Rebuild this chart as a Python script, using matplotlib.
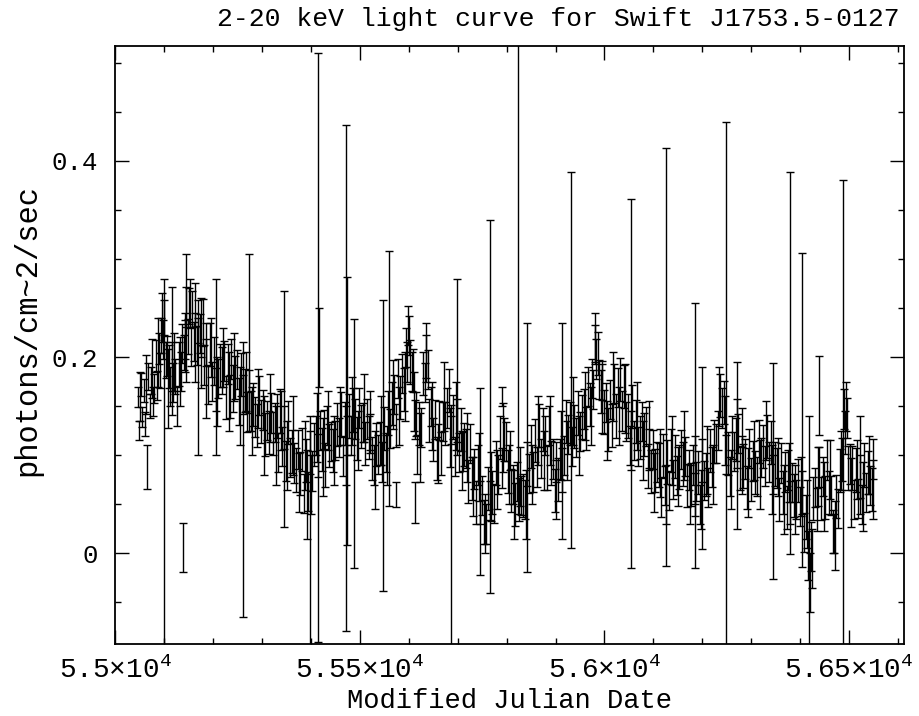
import matplotlib
matplotlib.use("Agg")
import matplotlib.pyplot as plt
import numpy as np
from matplotlib.ticker import MultipleLocator, FuncFormatter

# light curve points (MJD, photons/cm^2/s, 1-sigma)
mjd = [
    55047, 55050, 55053, 55056, 55059, 55062, 55068, 55071, 55074, 55077,
    55080, 55083, 55086, 55089, 55092, 55095, 55098, 55101, 55104, 55107,
    55110, 55113, 55116, 55119, 55122, 55126, 55130, 55134, 55137, 55140,
    55143, 55146, 55149, 55152, 55155, 55158, 55161, 55164, 55167, 55170,
    55173, 55176, 55179, 55182, 55186, 55190, 55194, 55198, 55202, 55206,
    55210, 55214, 55218, 55222, 55226, 55230, 55234, 55238, 55242, 55246,
    55250, 55254, 55258, 55262, 55266, 55270, 55274, 55278, 55282, 55286,
    55290, 55294, 55298, 55302, 55306, 55310, 55314, 55318, 55322, 55326,
    55330, 55334, 55338, 55342, 55346, 55350, 55354, 55358, 55362, 55366,
    55370, 55374, 55378, 55382, 55386, 55390, 55394, 55398, 55402, 55406,
    55410, 55414, 55418, 55422, 55426, 55430, 55434, 55438, 55442, 55446,
    55450, 55454, 55458, 55462, 55466, 55470, 55474, 55478, 55482, 55486,
    55490, 55494, 55498, 55502, 55506, 55510, 55514, 55518, 55522, 55526,
    55530, 55534, 55538, 55542, 55546, 55550, 55554, 55558, 55562, 55566,
    55570, 55574, 55578, 55582, 55586, 55590, 55594, 55597, 55600, 55603,
    55606, 55609, 55612, 55615, 55618, 55622, 55626, 55630, 55633, 55636,
    55639, 55642, 55646, 55650, 55654, 55658, 55662, 55666, 55670, 55674,
    55678, 55682, 55686, 55690, 55694, 55698, 55702, 55706, 55710, 55714,
    55718, 55722, 55726, 55730, 55734, 55738, 55742, 55746, 55750, 55754,
    55758, 55762, 55766, 55770, 55774, 55778, 55782, 55786, 55790, 55794,
    55798, 55802, 55806, 55810, 55814, 55818, 55822, 55826, 55830, 55834,
    55838, 55842, 55846, 55850, 55854, 55858, 55862, 55866, 55870, 55874,
    55878, 55882, 55886, 55890, 55894, 55898, 55902, 55906, 55910, 55914,
    55918, 55922, 55926, 55930, 55934, 55938, 55942, 55946, 55950, 55954,
    55958, 55962, 55966, 55970, 55974, 55977, 55980, 55983, 55986, 55989,
    55992, 55996, 56000, 56004, 56008, 56012, 56016, 56020, 56024, 56028,
    56032, 56036, 56040, 56044, 56048, 56052, 56056, 56060, 56064, 56068,
    56072, 56076, 56080, 56084, 56088, 56092, 56096, 56100, 56104, 56108,
    56112, 56116, 56120, 56124, 56128, 56132, 56136, 56140, 56144, 56148,
    56152, 56156, 56160, 56164, 56168, 56172, 56176, 56180, 56184, 56188,
    56192, 56196, 56200, 56204, 56208, 56212, 56216, 56220, 56224, 56228,
    56232, 56236, 56240, 56244, 56248, 56252, 56256, 56260, 56264, 56268,
    56272, 56276, 56280, 56284, 56288, 56292, 56296, 56300, 56304, 56308,
    56312, 56316, 56320, 56324, 56328, 56332, 56336, 56340, 56344, 56348,
    56352, 56356, 56360, 56364, 56368, 56372, 56376, 56380, 56384, 56388,
    56392, 56396, 56400, 56404, 56408, 56412, 56416, 56419, 56422, 56426,
    56430, 56434, 56438, 56442, 56446, 56450, 56454, 56458, 56462, 56466,
    56470, 56474, 56478, 56482, 56486, 56489, 56492, 56495, 56498, 56502,
    56506, 56510, 56514, 56518, 56522, 56526, 56530, 56534, 56538, 56542,
    56546, 56549,
]
rate = [
    0.159, 0.125, 0.172, 0.139, 0.166, 0.132, 0.180, 0.150, 0.176, 0.155,
    0.168, 0.201, 0.171, 0.209, 0.186, 0.222, 0.218, 0.240, 0.197, 0.201,
    0.190, 0.170, 0.190, 0.174, 0.180, 0.150, 0.193, 0.185, 0.214, 0.205,
    0.218, 0.251, 0.221, 0.252, 0.211, 0.249, 0.216, 0.253, 0.212, 0.236,
    0.224, 0.190, 0.235, 0.192, 0.213, 0.172, 0.213, 0.175, 0.196, 0.167,
    0.178, 0.191, 0.186, 0.196, 0.159, 0.193, 0.160, 0.198, 0.168, 0.179,
    0.187, 0.155, 0.182, 0.162, 0.166, 0.144, 0.165, 0.145, 0.152, 0.139,
    0.130, 0.161, 0.134, 0.146, 0.121, 0.135, 0.123, 0.143, 0.122, 0.133,
    0.140, 0.103, 0.145, 0.109, 0.128, 0.094, 0.133, 0.098, 0.104, 0.092,
    0.085, 0.106, 0.081, 0.106, 0.061, 0.095, 0.063, 0.103, 0.084, 0.111,
    0.120, 0.100, 0.125, 0.106, 0.126, 0.090, 0.130, 0.110, 0.114, 0.105,
    0.115, 0.131, 0.118, 0.142, 0.099, 0.132, 0.120, 0.140, 0.120, 0.146,
    0.137, 0.117, 0.148, 0.129, 0.133, 0.112, 0.137, 0.118, 0.122, 0.097,
    0.090, 0.111, 0.101, 0.112, 0.093, 0.127, 0.103, 0.143, 0.127, 0.153,
    0.162, 0.130, 0.178, 0.159, 0.183, 0.167, 0.210, 0.195, 0.222, 0.195,
    0.185, 0.186, 0.136, 0.142, 0.101, 0.132, 0.128, 0.183, 0.174, 0.201,
    0.187, 0.135, 0.150, 0.116, 0.136, 0.097, 0.135, 0.102, 0.134, 0.132,
    0.148, 0.166, 0.131, 0.139, 0.099, 0.135, 0.103, 0.126, 0.104, 0.111,
    0.107, 0.073, 0.112, 0.076, 0.086, 0.052, 0.090, 0.052, 0.059, 0.032,
    0.030, 0.066, 0.054, 0.062, 0.051, 0.092, 0.080, 0.118, 0.087, 0.116,
    0.114, 0.083, 0.105, 0.064, 0.070, 0.050, 0.073, 0.055, 0.059, 0.059,
    0.055, 0.091, 0.081, 0.109, 0.083, 0.115, 0.088, 0.130, 0.097, 0.126,
    0.120, 0.087, 0.130, 0.092, 0.096, 0.064, 0.093, 0.075, 0.096, 0.085,
    0.100, 0.134, 0.121, 0.132, 0.109, 0.129, 0.118, 0.143, 0.124, 0.139,
    0.147, 0.127, 0.170, 0.152, 0.178, 0.167, 0.213, 0.198, 0.204, 0.177,
    0.165, 0.176, 0.144, 0.154, 0.126, 0.157, 0.130, 0.173, 0.140, 0.169,
    0.177, 0.145, 0.170, 0.134, 0.140, 0.110, 0.150, 0.115, 0.134, 0.109,
    0.118, 0.134, 0.121, 0.129, 0.089, 0.107, 0.083, 0.106, 0.084, 0.093,
    0.090, 0.057, 0.100, 0.069, 0.093, 0.064, 0.105, 0.075, 0.099, 0.079,
    0.088, 0.106, 0.091, 0.099, 0.069, 0.085, 0.070, 0.090, 0.060, 0.073,
    0.082, 0.050, 0.095, 0.074, 0.080, 0.067, 0.105, 0.088, 0.114, 0.112,
    0.125, 0.161, 0.148, 0.154, 0.101, 0.102, 0.078, 0.118, 0.104, 0.116,
    0.122, 0.087, 0.128, 0.089, 0.096, 0.067, 0.107, 0.075, 0.094, 0.082,
    0.078, 0.114, 0.098, 0.109, 0.089, 0.119, 0.093, 0.113, 0.080, 0.091,
    0.087, 0.055, 0.092, 0.062, 0.083, 0.047, 0.085, 0.052, 0.072, 0.059,
    0.055, 0.074, 0.048, 0.062, 0.021, 0.037, -0.002, -0.030, 0.007, 0.056,
    0.067, 0.045, 0.088, 0.056, 0.078, 0.057, 0.095, 0.062, 0.059, 0.022,
    0.020, 0.058, 0.046, 0.084, 0.096, 0.147, 0.123, 0.138, 0.087, 0.091,
    0.087, 0.055, 0.085, 0.056, 0.078, 0.050, 0.090, 0.062, 0.082, 0.069,
    0.065, 0.096,
]
rate_err = [
    0.010, 0.010, 0.012, 0.010, 0.012, 0.012, 0.014, 0.012, 0.014, 0.015,
    0.015, 0.016, 0.015, 0.016, 0.018, 0.018, 0.020, 0.018, 0.018, 0.020,
    0.022, 0.020, 0.025, 0.020, 0.018, 0.020, 0.022, 0.020, 0.020, 0.018,
    0.020, 0.020, 0.018, 0.018, 0.020, 0.018, 0.020, 0.022, 0.020, 0.022,
    0.020, 0.022, 0.024, 0.020, 0.022, 0.020, 0.022, 0.020, 0.024, 0.022,
    0.020, 0.022, 0.024, 0.020, 0.022, 0.020, 0.022, 0.020, 0.024, 0.022,
    0.020, 0.024, 0.022, 0.020, 0.022, 0.020, 0.022, 0.020, 0.022, 0.020,
    0.022, 0.020, 0.022, 0.020, 0.022, 0.020, 0.022, 0.020, 0.022, 0.020,
    0.022, 0.020, 0.022, 0.020, 0.022, 0.020, 0.022, 0.020, 0.022, 0.020,
    0.022, 0.020, 0.022, 0.022, 0.020, 0.022, 0.020, 0.022, 0.020, 0.022,
    0.020, 0.022, 0.020, 0.022, 0.020, 0.022, 0.020, 0.022, 0.020, 0.022,
    0.020, 0.022, 0.020, 0.022, 0.020, 0.022, 0.020, 0.022, 0.020, 0.022,
    0.020, 0.022, 0.020, 0.022, 0.020, 0.022, 0.020, 0.022, 0.020, 0.022,
    0.020, 0.022, 0.020, 0.022, 0.020, 0.022, 0.020, 0.022, 0.020, 0.022,
    0.020, 0.022, 0.020, 0.022, 0.020, 0.022, 0.020, 0.020, 0.020, 0.022,
    0.020, 0.022, 0.020, 0.022, 0.020, 0.022, 0.020, 0.022, 0.020, 0.022,
    0.020, 0.022, 0.020, 0.022, 0.020, 0.022, 0.020, 0.022, 0.020, 0.022,
    0.020, 0.022, 0.020, 0.022, 0.020, 0.022, 0.020, 0.022, 0.020, 0.022,
    0.020, 0.022, 0.020, 0.022, 0.020, 0.022, 0.020, 0.022, 0.020, 0.022,
    0.020, 0.022, 0.020, 0.022, 0.020, 0.022, 0.020, 0.022, 0.020, 0.022,
    0.020, 0.022, 0.020, 0.022, 0.020, 0.022, 0.020, 0.022, 0.020, 0.022,
    0.020, 0.022, 0.020, 0.022, 0.020, 0.022, 0.020, 0.022, 0.020, 0.022,
    0.020, 0.022, 0.020, 0.022, 0.020, 0.022, 0.020, 0.022, 0.020, 0.022,
    0.020, 0.022, 0.020, 0.022, 0.020, 0.022, 0.020, 0.022, 0.020, 0.022,
    0.020, 0.022, 0.020, 0.022, 0.020, 0.020, 0.020, 0.020, 0.022, 0.020,
    0.022, 0.020, 0.022, 0.020, 0.022, 0.020, 0.022, 0.020, 0.022, 0.020,
    0.022, 0.020, 0.022, 0.020, 0.022, 0.020, 0.022, 0.020, 0.022, 0.020,
    0.022, 0.020, 0.022, 0.020, 0.022, 0.020, 0.022, 0.020, 0.022, 0.020,
    0.022, 0.020, 0.022, 0.020, 0.022, 0.020, 0.022, 0.020, 0.022, 0.020,
    0.022, 0.020, 0.022, 0.020, 0.022, 0.020, 0.022, 0.020, 0.022, 0.020,
    0.022, 0.020, 0.022, 0.020, 0.022, 0.020, 0.022, 0.020, 0.022, 0.020,
    0.020, 0.022, 0.020, 0.022, 0.020, 0.022, 0.020, 0.022, 0.020, 0.022,
    0.020, 0.022, 0.020, 0.022, 0.020, 0.022, 0.020, 0.022, 0.020, 0.022,
    0.020, 0.022, 0.020, 0.022, 0.020, 0.022, 0.020, 0.022, 0.020, 0.022,
    0.020, 0.022, 0.020, 0.022, 0.020, 0.022, 0.020, 0.022, 0.020, 0.022,
    0.020, 0.022, 0.020, 0.022, 0.020, 0.022, 0.025, 0.030, 0.025, 0.022,
    0.020, 0.022, 0.020, 0.022, 0.020, 0.022, 0.020, 0.022, 0.020, 0.022,
    0.020, 0.022, 0.020, 0.022, 0.022, 0.020, 0.022, 0.020, 0.022, 0.020,
    0.022, 0.020, 0.022, 0.020, 0.022, 0.020, 0.022, 0.020, 0.022, 0.020,
    0.022, 0.020,
]

# scattered points with medium error bars
mid_mjd = [55052, 55064, 55076, 55088, 55097, 55109, 55121, 55132, 55144, 55154,
           55163, 55175, 55185, 55196, 55208, 55220, 55232, 55244, 55256, 55268,
           55280, 55292, 55304, 55316, 55328, 55340, 55352, 55364, 55376, 55388,
           55400, 55412, 55424, 55436, 55448, 55460, 55472, 55484, 55496, 55508,
           55520, 55532, 55544, 55556, 55568, 55580, 55592, 55599, 55611, 55624,
           55635, 55648, 55660, 55672, 55684, 55696, 55708, 55720, 55732, 55744,
           55756, 55768, 55780, 55792, 55804, 55816, 55828, 55840, 55852, 55864,
           55876, 55888, 55900, 55912, 55924, 55936, 55948, 55960, 55972, 55981,
           55994, 56006, 56018, 56030, 56042, 56054, 56066, 56078, 56090, 56102,
           56114, 56126, 56138, 56150, 56162, 56174, 56186, 56198, 56210, 56222,
           56234, 56246, 56258, 56270, 56282, 56294, 56306, 56318, 56330, 56342,
           56354, 56366, 56378, 56390, 56402, 56414, 56424, 56436, 56448, 56460,
           56472, 56484, 56493, 56504, 56516, 56528, 56540, 56548]
mid_rate = [0.160, 0.172, 0.188, 0.205, 0.240, 0.168, 0.195, 0.185, 0.215, 0.255,
            0.210, 0.230, 0.178, 0.210, 0.165, 0.200, 0.165, 0.190, 0.150, 0.175,
            0.135, 0.158, 0.120, 0.148, 0.110, 0.135, 0.100, 0.120, 0.072, 0.100,
            0.070, 0.128, 0.098, 0.135, 0.105, 0.140, 0.110, 0.145, 0.115, 0.148,
            0.135, 0.085, 0.125, 0.100, 0.162, 0.140, 0.170, 0.232, 0.155, 0.108,
            0.205, 0.140, 0.102, 0.160, 0.118, 0.140, 0.095, 0.108, 0.068, 0.088,
            0.030, 0.068, 0.075, 0.118, 0.080, 0.050, 0.078, 0.050, 0.080, 0.125,
            0.095, 0.125, 0.065, 0.110, 0.105, 0.145, 0.110, 0.150, 0.140, 0.220,
            0.158, 0.125, 0.170, 0.140, 0.158, 0.115, 0.140, 0.105, 0.120, 0.072,
            0.092, 0.060, 0.105, 0.078, 0.110, 0.060, 0.085, 0.055, 0.095, 0.080,
            0.160, 0.125, 0.075, 0.122, 0.090, 0.072, 0.105, 0.080, 0.125, 0.075,
            0.088, 0.055, 0.082, 0.055, 0.068, 0.040, -0.005, 0.078, 0.058, 0.085,
            0.018, 0.095, 0.150, 0.062, 0.085, 0.058, 0.090, 0.065]
mid_err = [0.025, 0.030, 0.030, 0.035, 0.025, 0.040, 0.030, 0.035, 0.030, 0.025,
           0.035, 0.030, 0.040, 0.030, 0.035, 0.030, 0.040, 0.035, 0.040, 0.030,
           0.035, 0.030, 0.040, 0.035, 0.040, 0.030, 0.035, 0.040, 0.030, 0.035,
           0.030, 0.035, 0.040, 0.030, 0.035, 0.030, 0.040, 0.035, 0.030, 0.035,
           0.030, 0.040, 0.035, 0.030, 0.035, 0.030, 0.035, 0.020, 0.030, 0.035,
           0.030, 0.035, 0.030, 0.035, 0.030, 0.035, 0.030, 0.035, 0.030, 0.035,
           0.030, 0.035, 0.030, 0.035, 0.030, 0.035, 0.030, 0.035, 0.030, 0.035,
           0.030, 0.035, 0.030, 0.035, 0.030, 0.035, 0.030, 0.035, 0.030, 0.025,
           0.035, 0.030, 0.035, 0.030, 0.035, 0.030, 0.035, 0.030, 0.035, 0.030,
           0.035, 0.030, 0.035, 0.030, 0.035, 0.030, 0.035, 0.030, 0.035, 0.030,
           0.030, 0.035, 0.030, 0.035, 0.030, 0.035, 0.030, 0.035, 0.030, 0.035,
           0.030, 0.035, 0.030, 0.035, 0.030, 0.035, 0.030, 0.030, 0.035, 0.030,
           0.035, 0.030, 0.025, 0.035, 0.030, 0.035, 0.030, 0.030]

# points with large error bars
wide_mjd = [55065, 55100, 55117, 55138, 55146, 55170, 55207, 55262, 55274, 55345,
            55392, 55399, 55414, 55416, 55471, 55473, 55488, 55548, 55560, 55575,
            55612, 55686, 55698, 55745, 55766, 55790, 55824, 55841, 55913, 55932,
            56055, 56125, 56184, 56200, 56248, 56270, 56344, 56380, 56403, 56418,
            56439, 56488, 56522]
wide_rate = [0.088, 0.09, 0.206, 0.006, 0.24, 0.17, 0.19, 0.075, 0.215, 0.147,
             0.06, 0.02, 0.21, 0.21, 0.179, 0.145, 0.112, 0.11, 0.178, 0.06,
             0.052, 0.02, 0.19, 0.073, 0.15, 0.16, 0.29, 0.108, 0.125, 0.197,
             0.173, 0.2, 0.12, 0.097, 0.17, 0.11, 0.084, 0.194, 0.146, 0.02,
             0.161, 0.14, 0.09]
wide_err = [0.022, 0.19, 0.065, 0.025, 0.065, 0.07, 0.09, 0.14, 0.09, 0.12,
            0.045, 0.12, 0.30, 0.04, 0.258, 0.137, 0.127, 0.148, 0.13, 0.013,
            0.021, 0.12, 0.09, 0.095, 0.19, 0.01, 0.25, 0.127, 0.11, 0.192,
            0.188, 0.213, 0.135, 0.093, 0.27, 0.085, 0.11, 0.195, 0.16, 0.12,
            0.04, 0.24, 0.05]

plt.rcParams['font.family'] = ['Liberation Mono', 'DejaVu Sans Mono']
plt.rcParams['mathtext.fontset'] = 'custom'
plt.rcParams['mathtext.rm'] = 'Liberation Mono'
plt.rcParams['mathtext.it'] = 'Liberation Mono'

x = np.concatenate([mjd, mid_mjd, wide_mjd])
y = np.concatenate([rate, mid_rate, wide_rate])
e = np.concatenate([rate_err, mid_err, wide_err])

fig = plt.figure(figsize=(9.19, 7.16), dpi=100)
ax = fig.add_axes([115 / 919, 1 - 644 / 716, 789 / 919, 598 / 716])

ax.errorbar(x, y, yerr=e, fmt='none', ecolor='black', elinewidth=1.0,
            capsize=3.0, capthick=1.0)

ax.set_xlim(55000, 56612)
ax.set_ylim(-0.0924, 0.517)

ax.xaxis.set_major_locator(MultipleLocator(500))
ax.xaxis.set_minor_locator(MultipleLocator(100))
ax.yaxis.set_major_locator(MultipleLocator(0.2))
ax.yaxis.set_minor_locator(MultipleLocator(0.05))
ax.xaxis.set_major_formatter(FuncFormatter(lambda v, p: f"{v / 1e4:g}×10$^4$"))
ax.yaxis.set_major_formatter(FuncFormatter(lambda v, p: f"{v:g}"))

ax.tick_params(which='both', direction='in', top=True, right=True, width=1)
ax.tick_params(which='major', length=10, pad=8)
ax.tick_params(which='minor', length=4.5)
ax.tick_params(axis='x', labelsize=20, pad=9)
ax.tick_params(axis='y', labelsize=18.5, pad=12)
for s in ax.spines.values():
    s.set_linewidth(1.3)

ax.set_xlabel("Modified Julian Date", fontsize=19.5, labelpad=3)
ax.set_ylabel("photons/cm~2/sec", fontsize=22, labelpad=7, y=0.525)
fig.text(900 / 919, 1 - 19 / 716, "2-20 keV light curve for Swift J1753.5-0127",
         ha='right', va='center', fontsize=19)

fig.savefig("out.png", dpi=100)
